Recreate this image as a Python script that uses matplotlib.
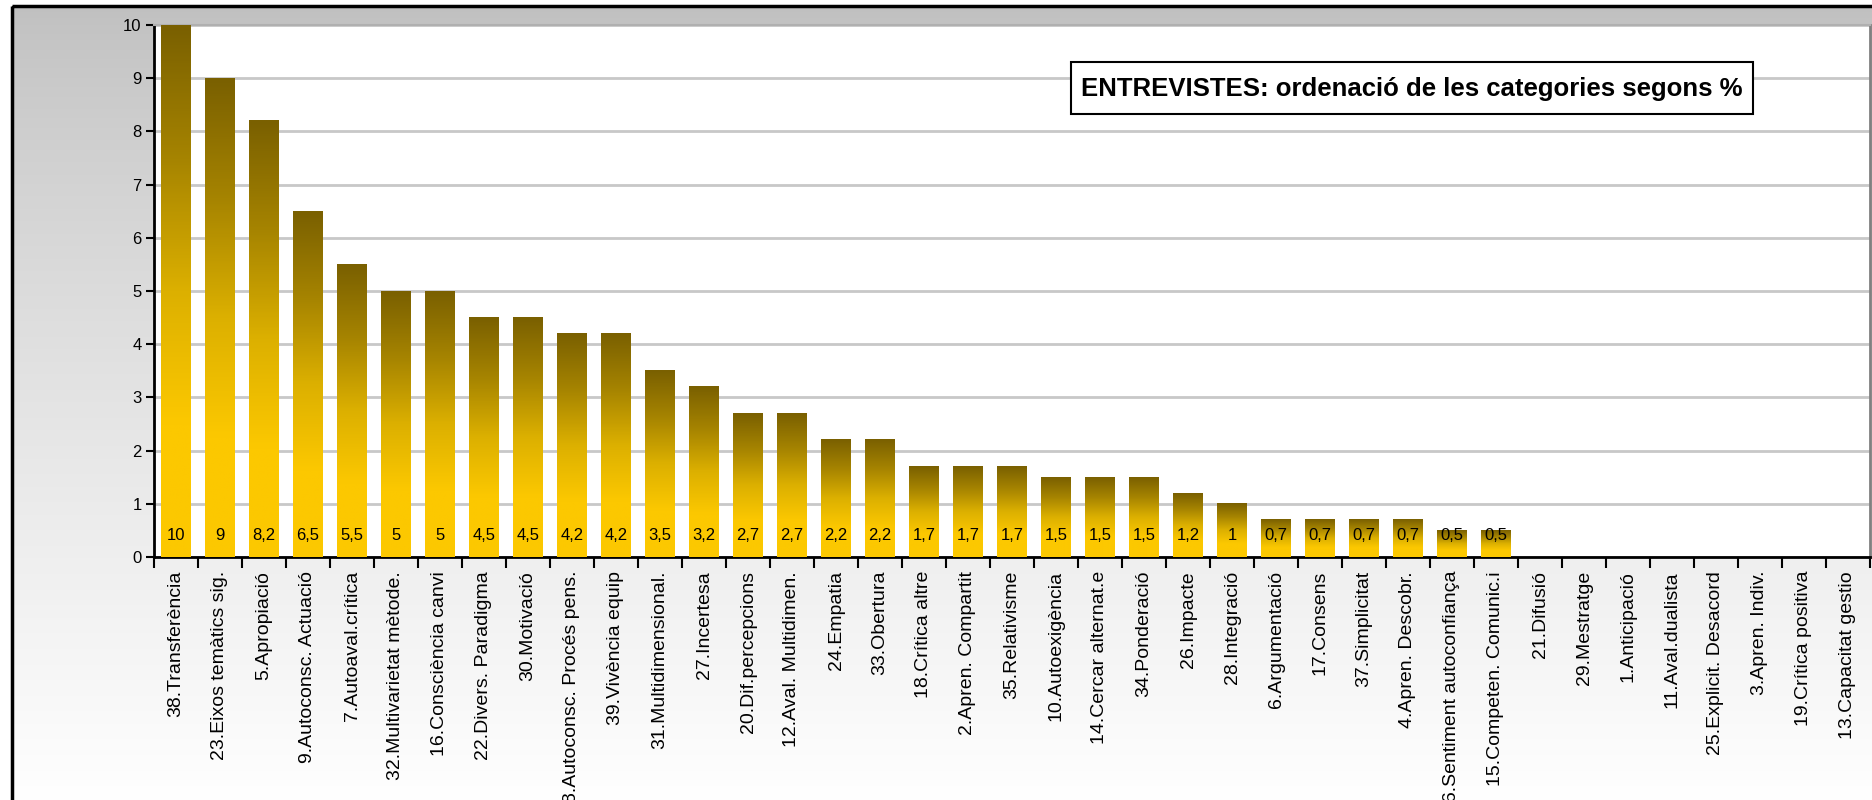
import numpy as np
import matplotlib.pyplot as plt
from matplotlib.colors import LinearSegmentedColormap
from matplotlib.patches import Rectangle

plt.rcParams['font.family'] = ['Liberation Sans', 'DejaVu Sans']

categories = ['38.Transferència', '23.Eixos temàtics sig.', '5.Apropiació', '9.Autoconsc. Actuació',
              '7.Autoaval.crítica', '32.Multivarietat mètode.', '16.Consciència canvi', '22.Divers. Paradigma',
              '30.Motivació', '8.Autoconsc. Procés pens.', '39.Vivència equip', '31.Multidimensional.',
              '27.Incertesa', '20.Dif.percepcions', '12.Aval. Multidimen.', '24.Empatia', '33.Obertura',
              '18.Crítica altre', '2.Apren. Compartit', '35.Relativisme', '10.Autoexigència',
              '14.Cercar alternat.e', '34.Ponderació', '26.Impacte', '28.Integració', '6.Argumentació',
              '17.Consens', '37.Simplicitat', '4.Apren. Descobr.', '36.Sentiment autoconfiança',
              '15.Competen. Comunic.i', '21.Difusió', '29.Mestratge', '1.Anticipació', '11.Aval.dualista',
              '25.Explicit. Desacord', '3.Apren. Indiv.', '19.Crítica positiva', '13.Capacitat gestio']
values = [10, 9, 8.2, 6.5, 5.5, 5, 5, 4.5, 4.5, 4.2, 4.2, 3.5, 3.2, 2.7, 2.7, 2.2, 2.2, 1.7, 1.7, 1.7,
          1.5, 1.5, 1.5, 1.2, 1, 0.7, 0.7, 0.7, 0.7, 0.5, 0.5, 0, 0, 0, 0, 0, 0, 0, 0]
title = 'ENTREVISTES: ordenació de les categories segons %'

W, H = 1872, 800
fig = plt.figure(figsize=(W / 100, H / 100), dpi=100)
fig.patch.set_facecolor('white')

# background: grey -> white gradient inside the black frame
bg = fig.add_axes([0, 0, 1, 1], zorder=0)
bg.set_xlim(0, W)
bg.set_ylim(H, 0)
bg.axis('off')
t = np.linspace(0, 1, 256) ** 0.8
grad = (192 + 63 * t)[:, None] / 255.0
bg.imshow(np.dstack([grad, grad, grad]), extent=[12, W + 5, H + 5, 6], aspect='auto', zorder=0)
bg.add_patch(Rectangle((12, 6), W, H, fill=False, edgecolor='black', lw=2.5, zorder=1))

# plot area
x0, x1, ytop, ybot = 154, 1870, 25, 557
ax = fig.add_axes([x0 / W, (H - ybot) / H, (x1 - x0) / W, (ybot - ytop) / H], zorder=2)
ax.set_facecolor('white')

cmap = LinearSegmentedColormap.from_list('gold', ['#7a6000', '#a68400', '#dcb000', '#fcc800', '#fcc800'])
bar_w = 0.66
for i, v in enumerate(values):
    if v <= 0:
        continue
    g = np.linspace(0, 1, 200)[:, None]
    ax.imshow(g, cmap=cmap, extent=[i - bar_w / 2, i + bar_w / 2, 0, v], aspect='auto',
              origin='upper', zorder=3, interpolation='bilinear')
    ax.text(i, 0.4, f'{v:g}'.replace('.', ','), ha='center', va='center', fontsize=12, zorder=4)

ax.set_xlim(-0.5, len(values) - 0.5)
ax.set_ylim(0, 10)
ax.set_yticks(range(0, 11))
ax.tick_params(axis='y', direction='out', length=6, width=1.5, labelsize=12, pad=3)
ax.grid(axis='y', color='#c8c8c8', lw=2, zorder=1)
ax.set_axisbelow(True)

ax.set_xticks(np.arange(-0.5, len(values)), labels=[])
ax.tick_params(axis='x', which='major', direction='out', length=8, width=1.5)
ax.set_xticks(np.arange(len(values)), labels=categories, minor=True)
ax.tick_params(axis='x', which='minor', length=0, labelsize=14, labelrotation=90, pad=10)

for s in ['left', 'bottom']:
    ax.spines[s].set_color('black')
    ax.spines[s].set_linewidth(2)
ax.spines['top'].set_color('#b0b0b0')
ax.spines['top'].set_linewidth(1.5)
ax.spines['right'].set_color('#808080')
ax.spines['right'].set_linewidth(2)

# title box, drawn on top of the plot area
box = Rectangle((1071 / W, 1 - 114 / H), 682 / W, 52 / H, transform=fig.transFigure,
                facecolor='white', edgecolor='black', lw=1.5, zorder=10)
fig.add_artist(box)
fig.text(1412 / W, 1 - 89 / H, title, ha='center', va='center', fontsize=18.5,
         fontweight='bold', zorder=11)

plt.savefig('out.png', dpi=100)
